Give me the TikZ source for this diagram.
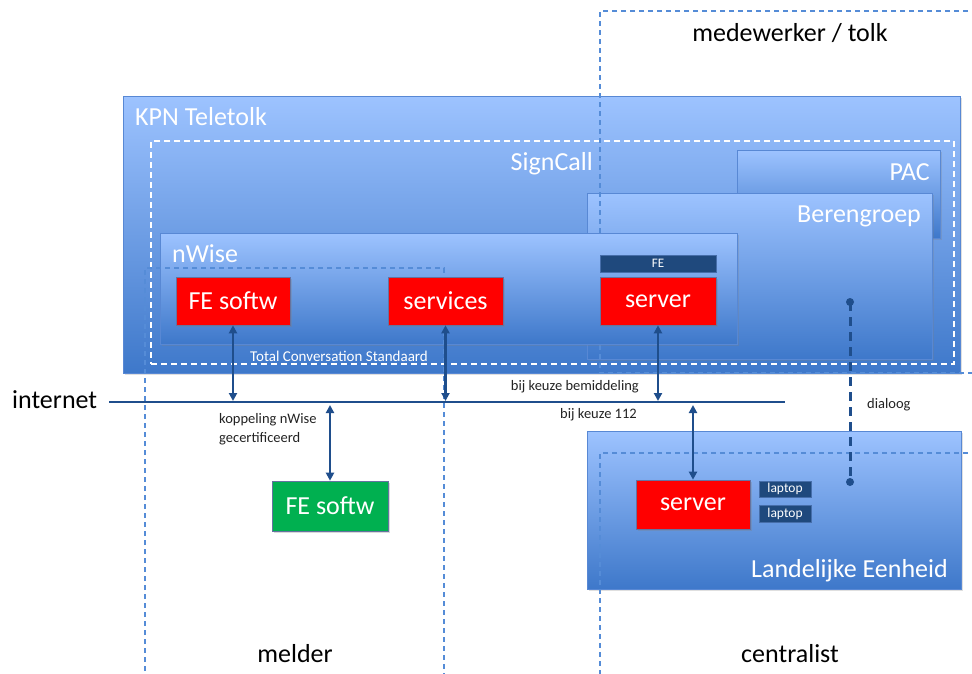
\documentclass[tikz,border=0pt]{standalone}
\usepackage{fontspec}
\setmainfont{Carlito}
\usetikzlibrary{arrows.meta,shadows,fit}
\definecolor{boxtop}{RGB}{157,195,255}
\definecolor{boxbot}{RGB}{62,120,202}
\definecolor{boxedge}{RGB}{88,136,212}
\definecolor{navy}{RGB}{31,73,125}
\definecolor{arrowblue}{RGB}{31,78,140}
\definecolor{regionblue}{RGB}{85,140,215}
\definecolor{redfill}{RGB}{255,0,0}
\definecolor{greenfill}{RGB}{0,176,80}
\definecolor{txtdark}{RGB}{35,35,35}
\tikzset{
  bluebox/.style={draw=boxedge, line width=0.8pt, top color=boxtop, bottom color=boxbot, inner sep=0pt,
    drop shadow={opacity=0.25, shadow xshift=1.5pt, shadow yshift=-1.5pt}},
  whitedash/.style={draw=white, line width=1.3pt, dash pattern=on 6pt off 4pt, inner sep=0pt},
  regionline/.style={draw=regionblue, line width=1.1pt, dash pattern=on 5pt off 4pt},
  bigtxt/.style={font=\fontsize{26}{30}\selectfont, inner sep=0pt},
  whitelbl/.style={bigtxt, text=white},
  smalltxt/.style={font=\fontsize{14.5}{17}\selectfont, inner sep=0pt, text=txtdark},
  redbx/.style={fill=redfill, draw={rgb,255:red,100;green,115;blue,160}, line width=0.6pt, text=white,
    font=\fontsize{26}{30}\selectfont, inner sep=0pt,
    drop shadow={opacity=0.3, shadow xshift=1.5pt, shadow yshift=-1.5pt}},
  greenbx/.style={redbx, fill=greenfill},
  navybx/.style={fill=navy, draw={rgb,255:red,70;green,110;blue,170}, line width=0.6pt, text=white, inner sep=0pt},
  arr/.style={arrowblue, line width=2.2pt, {Triangle[length=8pt,width=8pt]}-{Triangle[length=8pt,width=8pt]}}
}
\begin{document}
\begin{tikzpicture}[x=1pt, y=-1pt]
\useasboundingbox (0,0) rectangle (972,673);
\fill[white] (0,0) rectangle (972,673);

% KPN Teletolk
\node[bluebox, fit={(123,96) (960,373)}] (kpn) {};
\node[whitelbl, anchor=base west] (kpnl) at (135,125) {KPN Teletolk};

% PAC and Berengroep
\node[bluebox, fit={(737,150) (940,238)}] (pac) {};
\node[whitelbl, anchor=base east] (pacl) at (930,180) {PAC};
\node[bluebox, fit={(587,193) (932,359)}] (beren) {};
\node[whitelbl, anchor=base east] (berenl) at (921,222) {Berengroep};

% SignCall
\node[whitedash, fit={(151,141) (954,364)}] (sign) {};
\node[whitelbl, anchor=base east] (signl) at (593,170) {SignCall};

% medewerker / tolk region
\coordinate (mwA) at (977,11);
\coordinate (mwB) at (600,11);
\coordinate (mwC) at (600,373);
\coordinate (mwD) at (977,373);
\draw[regionline] (mwA) -- (mwB) -- (mwC) -- (mwD);

% nWise
\node[bluebox, fit={(160,233) (737,344)}] (nwise) {};
\node[whitelbl, anchor=base west] (nwisel) at (172,262) {nWise};

% melder region
\coordinate (mdA) at (145,680);
\coordinate (mdB) at (145,268);
\coordinate (mdC) at (444,268);
\coordinate (mdD) at (444,680);
\draw[regionline] (mdA) -- (mdB) -- (mdC) -- (mdD);

% red boxes in nWise
\node[redbx, minimum width=114pt, minimum height=48pt] (fes1) at (233,301) {FE softw};
\node[redbx, minimum width=115pt, minimum height=48pt] (serv) at (445.5,301) {services};
\node[navybx, minimum width=116pt, minimum height=17pt, font=\fontsize{13}{15}\selectfont] (febar) at (658,263.5) {FE};
\node[redbx, minimum width=116pt, minimum height=48pt] (srv1) at (658,301) {server};

\node[font=\fontsize{15}{17}\selectfont, text=white, inner sep=0pt, anchor=base] (tcs) at (339,361) {Total Conversation Standaard};

% Landelijke Eenheid
\node[bluebox, fit={(587,431) (961,589)}] (le) {};
\node[whitelbl, anchor=base east] (lel) at (948,577) {Landelijke Eenheid};

% centralist region
\coordinate (ceA) at (977,453);
\coordinate (ceB) at (600,453);
\coordinate (ceC) at (600,680);
\draw[regionline] (ceA) -- (ceB) -- (ceC);

\node[redbx, minimum width=114pt, minimum height=49pt] (srv2) at (693,504.5) {server};
\node[navybx, minimum width=52pt, minimum height=16pt, font=\fontsize{13.5}{15}\selectfont] (lap1) at (785,489) {laptop};
\node[navybx, minimum width=52pt, minimum height=17pt, font=\fontsize{13.5}{15}\selectfont] (lap2) at (785,513.5) {laptop};

% green FE softw
\node[greenbx, minimum width=116pt, minimum height=50pt] (fes2) at (330,506) {FE softw};

% internet line
\coordinate (inetL) at (109,402);
\coordinate (inetR) at (785,402);
\draw[arrowblue, line width=2.8pt] (inetL) -- (inetR);
\node[bigtxt, anchor=base west] (inet) at (12,408) {internet};

% connectors
\coordinate (a1) at (fes1.south |- inetL);
\coordinate (a2) at (serv.south |- inetL);
\coordinate (a3) at (srv1.south |- inetL);
\coordinate (a4) at (fes2.north |- inetL);
\coordinate (a5) at (srv2.north |- inetL);
\draw[arr] (fes1.south) -- ([yshift=1pt]a1);
\draw[arr] (serv.south) -- ([yshift=1pt]a2);
\draw[arr] (srv1.south) -- ([yshift=1pt]a3);
\draw[arr] ([yshift=-3pt]a4) -- (fes2.north);
\draw[arr] ([yshift=-3pt]a5) -- (srv2.north);

% dialoog
\coordinate (dTop) at (850,302);
\coordinate (dBot) at (850,482);
\draw[arrowblue, line width=3pt, dash pattern=on 9pt off 6pt] (dTop) -- (dBot);
\fill[arrowblue] (dTop) circle (4pt);
\fill[arrowblue] (dBot) circle (4pt);
\node[smalltxt, anchor=base west] (dlg) at (867,408) {dialoog};

% small labels
\node[smalltxt, anchor=base east] (bkb) at (639,390) {bij keuze bemiddeling};
\node[smalltxt, anchor=base east] (bk112) at (637,418) {bij keuze 112};
\node[smalltxt, anchor=base west] (kop1) at (219,423) {koppeling nWise};
\node[smalltxt, anchor=base west] (kop2) at (219,442) {gecertificeerd};

% region titles
\node[bigtxt, anchor=base] (mw) at (790,41) {medewerker / tolk};
\node[bigtxt, anchor=base] (mld) at (295,662) {melder};
\node[bigtxt, anchor=base] (cen) at (790,662) {centralist};
\end{tikzpicture}
\end{document}
